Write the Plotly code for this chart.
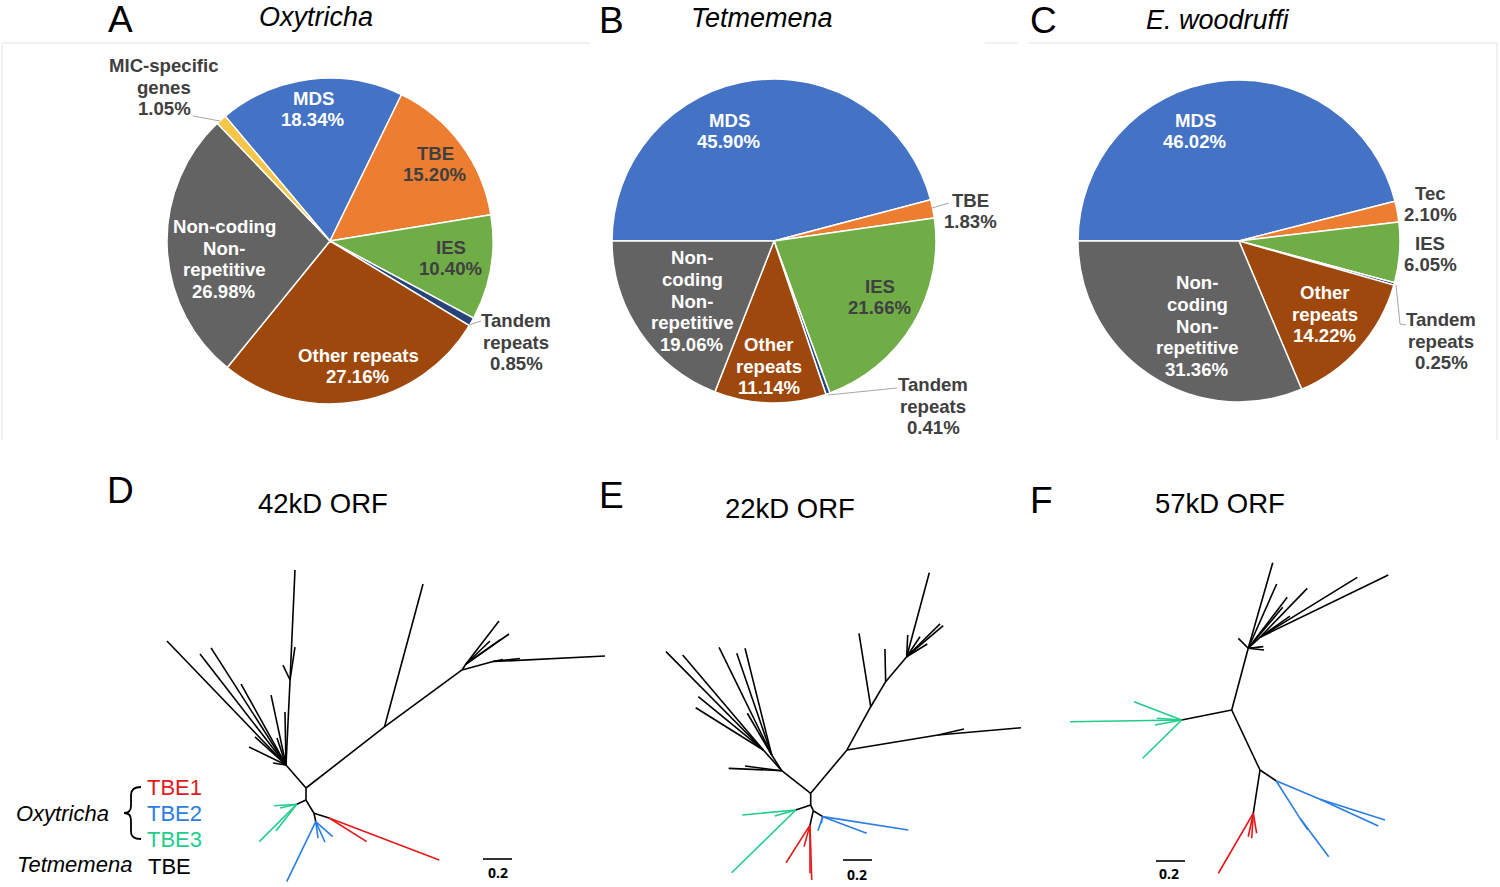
import plotly.graph_objects as go

W, H = 1500, 887          # canvas (pixels)
FONT = "Liberation Sans, Arial, sans-serif"

# ---------------- Pie data ----------------
pie_A_labels = ["MDS", "TBE", "IES", "Tandem repeats", "Other repeats",
                "Non-coding Non-repetitive", "MIC-specific genes"]
pie_A_values = [18.34, 15.20, 10.40, 0.85, 27.16, 26.98, 1.05]

pie_B_labels = ["MDS", "TBE", "IES", "Tandem repeats", "Other repeats",
                "Non-coding Non-repetitive"]
pie_B_values = [45.90, 1.83, 21.66, 0.41, 11.14, 19.06]

pie_C_labels = ["MDS", "Tec", "IES", "Tandem repeats", "Other repeats",
                "Non-coding Non-repetitive"]
pie_C_values = [46.02, 2.10, 6.05, 0.25, 14.22, 31.36]

slice_colors = {
    "MDS": "#4472C4", "TBE": "#ED7D31", "Tec": "#ED7D31", "IES": "#70AD47",
    "Tandem repeats": "#264478", "Other repeats": "#9E480E",
    "Non-coding Non-repetitive": "#636363", "MIC-specific genes": "#F6C64A",
}

# ---------------- Tree data (branch-length units, root at 0,0) ----------------
# Tree D: 42kD ORF
D_x = [0, 0, -0.138, 0.541, 0.807, 1.076, 1.290, 2.062, 1.476, 1.359,
       1.103, 1.331, 1.400, 1.269, 1.338,
       -0.959, -0.731, -0.655, -0.448, -0.352, -0.393, -0.228, -0.241, -0.145, -0.200,
       -0.110, -0.159, -0.076, -0.076,
       -0.064, -0.221, -0.179, -0.207, -0.322,
       0.055, 0.159, 0.419, 0.919,
       0.067, -0.133, 0.184, 0.131, 0.083]
D_y = [0, -0.083, 0.159, 0.421, 1.407, 0.814, 0.872, 0.910, 0.893, 0.886,
       0.855, 1.152, 1.062, 1.014, 1.021,
       1.014, 0.924, 0.966, 0.717, 0.352, 0.283, 0.172, 0.641, 0.524, 0.345,
       0.745, 0.848, 0.972, 1.503,
       -0.112, -0.122, -0.138, -0.297, -0.370,
       -0.174, -0.207, -0.370, -0.497,
       -0.232, -0.646, -0.336, -0.374, -0.345]
D_parent = [-1, 0, 0, 0, 3, 3, 5, 6, 6, 6,
            5, 10, 10, 10, 10,
            2, 2, 2, 2, 2, 2, 2, 2, 2, 2,
            2, 25, 25, 25,
            1, 29, 29, 29, 29,
            1, 34, 35, 35,
            34, 38, 38, 38, 38]
D_clade = ["k"] * 29 + ["k", "g", "g", "g", "g"] + ["k", "k", "r", "r"] + ["k", "b", "b", "b", "b"]

# Tree E: 22kD ORF
E_x = [0, 0, -0.200, 0.250, 0.878, 1.450, 1.057, 0.414, 0.333, 0.517, 0.512,
       0.662, 0.818, 0.669, 0.914, 0.892, 0.804, 0.754,
       -0.327, -0.998, -0.883, -0.775, -0.793,
       -0.269, -0.632, -0.510, -0.453, -0.437,
       -0.566, -0.453,
       -0.103, -0.472, -0.247, -0.545,
       0.018, -0.005, -0.170, 0.007, -0.005, -0.046,
       0.083, 0.673, 0.386, 0.050, 0.073]
E_y = [0, -0.081, 0.156, 0.299, 0.402, 0.452, 0.443, 0.597, 1.103, 0.770, 0.995,
       0.942, 1.521, 1.092, 1.156, 1.168, 1.030, 1.080,
       0.299, 0.977, 0.954, 0.666, 0.590,
       0.264, 1.007, 0.966, 1.000, 0.552,
       0.172, 0.188,
       -0.115, -0.150, -0.157, -0.548,
       -0.120, -0.219, -0.479, -0.598, -0.552, -0.368,
       -0.161, -0.253, -0.276, -0.258, -0.207]
E_parent = [-1, 0, 0, 0, 3, 4, 4, 3, 7, 7, 9,
            9, 11, 11, 11, 11, 11, 11,
            2, 18, 18, 18, 18,
            2, 23, 23, 23, 23,
            2, 2,
            1, 30, 30, 30,
            1, 34, 35, 35, 35, 35,
            34, 40, 40, 40, 40]
E_clade = ["k"] * 30 + ["k", "g", "g", "g"] + ["k", "k", "r", "r", "r", "r"] + ["k", "b", "b", "b", "b"]

# Tree F: 57kD ORF
F_x = [0, 0.114, 0.195, 0.283, 0.310, 0.383, 0.352, 0.046, 0.218, 0.223,
       0.521, 0.402, 0.866, 1.080,
       -0.345, -1.115, -0.674, -0.614, -0.529, -0.517,
       0.195, 0.149, -0.092, 0.172, 0.138, 0.114,
       0.306, 0.609, 1.057, 1.011, 0.471, 0.669, 0.526]
F_y = [0, 0.426, 0.501, 1.016, 0.869, 0.777, 0.708, 0.494, 0.437, 0.414,
       0.839, 0.648, 0.915, 0.931,
       -0.069, -0.081, 0.057, -0.333, -0.103, -0.057,
       -0.414, -0.712, -1.126, -0.850, -0.885, -0.874,
       -0.488, -0.616, -0.759, -0.800, -0.747, -1.012, -0.828]
F_parent = [-1, 0, 1, 1, 1, 1, 1, 1, 1, 1,
            2, 2, 2, 2,
            0, 14, 14, 14, 14, 14,
            0, 20, 21, 21, 21, 21,
            20, 26, 27, 27, 26, 30, 30]
F_clade = ["k"] * 14 + ["k", "g", "g", "g", "g", "g"] + ["k", "k", "r", "r", "r", "r"] + \
          ["k", "b", "b", "b", "b", "b", "b"]

clade_colors = {"k": "#000000", "r": "#E3191C", "b": "#2A7DE1", "g": "#22CC8A"}
scale_bar_length = 0.2

# ---------------- Figure ----------------
fig = go.Figure()

def pie_domain(cx, cy, r):
    return dict(x=[(cx - r) / W, (cx + r) / W], y=[(H - cy - r) / H, (H - cy + r) / H])

for labels, values, (cx, cy, r), rot in [
    (pie_A_labels, pie_A_values, (330, 241, 163), -40),
    (pie_B_labels, pie_B_values, (774, 241, 162), -90),
    (pie_C_labels, pie_C_values, (1239, 241, 161), -90),
]:
    fig.add_trace(go.Pie(
        labels=labels, values=values, sort=False, direction="clockwise",
        rotation=rot, textinfo="none", hoverinfo="label+value",
        marker=dict(colors=[slice_colors[l] for l in labels],
                    line=dict(color="white", width=1.5)),
        domain=pie_domain(cx, cy, r), showlegend=False,
    ))

# main pixel axes for text / leader lines
fig.add_trace(go.Scatter(x=[0, W], y=[0, H], mode="markers", marker=dict(opacity=0),
                         hoverinfo="skip", showlegend=False, xaxis="x", yaxis="y"))

tree_roots = {"D": (306.0, 788.0), "E": (810.7, 793.3), "F": (1231.7, 710.0)}
PX_PER_UNIT = 145.0
axis_ids = {"D": ("x2", "y2"), "E": ("x3", "y3"), "F": ("x4", "y4")}

trees = {"D": (D_x, D_y, D_parent, D_clade),
         "E": (E_x, E_y, E_parent, E_clade),
         "F": (F_x, F_y, F_parent, F_clade)}

for name, (xs, ys, par, cl) in trees.items():
    xa, ya = axis_ids[name]
    for c in ["k", "g", "b", "r"]:
        sx, sy = [], []
        for i, p in enumerate(par):
            if p < 0 or cl[i] != c:
                continue
            sx += [xs[p], xs[i], None]
            sy += [ys[p], ys[i], None]
        if sx:
            fig.add_trace(go.Scatter(x=sx, y=sy, mode="lines",
                                     line=dict(color=clade_colors[c], width=1.6),
                                     hoverinfo="skip", showlegend=False,
                                     xaxis=xa, yaxis=ya))

# scale bars (bar start in pixels -> tree units)
scale_bar_pos = {"D": (483, 859, 498, 872), "E": (843, 860, 857, 874), "F": (1156, 861, 1169, 873)}
annotations = []
for name, (bx, by, tx, ty) in scale_bar_pos.items():
    rx, ry = tree_roots[name]
    xa, ya = axis_ids[name]
    u0 = (bx - rx) / PX_PER_UNIT
    v0 = (ry - by) / PX_PER_UNIT
    fig.add_trace(go.Scatter(x=[u0, u0 + scale_bar_length], y=[v0, v0], mode="lines",
                             line=dict(color="black", width=1.6), hoverinfo="skip",
                             showlegend=False, xaxis=xa, yaxis=ya))
    annotations.append(dict(x=tx, y=ty, xref="x", yref="y", text="<b>0.2</b>",
                            showarrow=False,
                            font=dict(family="Open Sans, DejaVu Sans", size=14, color="black")))

layout_axes = {}
layout_axes["xaxis"] = dict(range=[0, W], visible=False, domain=[0, 1], fixedrange=True)
layout_axes["yaxis"] = dict(range=[H, 0], visible=False, domain=[0, 1], fixedrange=True)
for name, (xa, ya) in axis_ids.items():
    rx, ry = tree_roots[name]
    n = xa[1:]
    layout_axes["xaxis" + n] = dict(range=[-rx / PX_PER_UNIT, (W - rx) / PX_PER_UNIT],
                                   visible=False, domain=[0, 1], anchor=ya, fixedrange=True)
    layout_axes["yaxis" + n] = dict(range=[-(H - ry) / PX_PER_UNIT, ry / PX_PER_UNIT],
                                   visible=False, domain=[0, 1], anchor=xa, fixedrange=True)

# ---------------- Pie labels ----------------
DARK = "#404040"
pie_label_layout = [
    (pie_A_values, [
        (["MDS"], 313, 109, "white"),
        (["TBE"], 435, 164, DARK),
        (["IES"], 451, 258, DARK),
        (["Tandem", "repeats"], 516, 342, DARK),
        (["Other repeats"], 358, 366, "white"),
        (["Non-coding", "Non-", "repetitive"], 224, 259, "white"),
        (["MIC-specific", "genes"], 164, 87, DARK),
    ]),
    (pie_B_values, [
        (["MDS"], 729, 131, "white"),
        (["TBE"], 970, 211, DARK),
        (["IES"], 880, 297, DARK),
        (["Tandem", "repeats"], 933, 406, DARK),
        (["Other", "repeats"], 769, 366, "white"),
        (["Non-", "coding", "Non-", "repetitive"], 692, 301, "white"),
    ]),
    (pie_C_values, [
        (["MDS"], 1195, 131, "white"),
        (["Tec"], 1430, 204, DARK),
        (["IES"], 1430, 254, DARK),
        (["Tandem", "repeats"], 1441, 341, DARK),
        (["Other", "repeats"], 1325, 314, "white"),
        (["Non-", "coding", "Non-", "repetitive"], 1197, 326, "white"),
    ]),
]
LINE_H = 21.8
for values, specs in pie_label_layout:
    for val, (lines, cx, cy, col) in zip(values, specs):
        all_lines = lines + ["%.2f%%" % val]
        n = len(all_lines)
        for i, t in enumerate(all_lines):
            annotations.append(dict(
                x=cx, y=cy + (i - (n - 1) / 2) * LINE_H, xref="x", yref="y",
                text="<b>%s</b>" % t, showarrow=False,
                font=dict(family=FONT, size=18.6, color=col)))

# leader lines
shapes = []
leaders = [
    [(193, 116), (220, 121)],
    [(469, 325), (481, 321)],
    [(932, 208), (949, 203)],
    [(828, 395), (897, 388)],
    [(1396, 285), (1400, 324), (1406, 325)],
]
for pts in leaders:
    path = "M " + " L ".join("%g,%g" % p for p in pts)
    shapes.append(dict(type="path", path=path, xref="x", yref="y",
                       line=dict(color="#A6A6A6", width=1)))

# faint chart frames
for (x0, y0, x1, y1) in [(2, 43, 2, 440), (2, 43, 590, 43), (1028, 43, 1497, 43),
                         (1497, 43, 1497, 440), (985, 43, 1018, 43)]:
    shapes.append(dict(type="line", x0=x0, y0=y0, x1=x1, y1=y1, xref="x", yref="y",
                       line=dict(color="#E4E4E4", width=1)))

# Oxytricha brace
shapes.append(dict(type="path", path="M 141,787 Q 131,787 131,795 L 131,806 Q 131,813 124,813 "
                                      "Q 131,813 131,820 L 131,832 Q 131,839 141,839",
                   xref="x", yref="y", line=dict(color="black", width=1.8)))

# titles
for txt, x, y, size in [
    ("A", 120, 19, 37), ("<i>Oxytricha</i>", 316, 17, 27),
    ("B", 611, 20, 37), ("<i>Tetmemena</i>", 762, 18, 27),
    ("C", 1043, 20, 37), ("<i>E. woodruffi</i>", 1218, 20, 27),
    ("D", 120, 490, 37), ("42kD ORF", 323, 503, 27.5),
    ("E", 611, 495, 37), ("22kD ORF", 790, 508, 27.5),
    ("F", 1041, 500, 37), ("57kD ORF", 1220, 503, 27.5),
]:
    annotations.append(dict(x=x, y=y, xref="x", yref="y", text=txt, showarrow=False,
                            font=dict(family=FONT, size=size, color="black")))

# legend
for txt, x, y, col, anchor in [
    ("<i>Oxytricha</i>", 62, 813, "black", "center"),
    ("TBE1", 145, 787, clade_colors["r"], "left"),
    ("TBE2", 145, 813, clade_colors["b"], "left"),
    ("TBE3", 145, 839, clade_colors["g"], "left"),
    ("<i>Tetmemena</i>", 74, 864, "black", "center"),
    ("TBE", 146, 866, "black", "left"),
]:
    annotations.append(dict(x=x, y=y, xref="x", yref="y", text=txt, showarrow=False,
                            xanchor=anchor, font=dict(family=FONT, size=22, color=col)))

fig.update_layout(
    width=W, height=H, margin=dict(l=0, r=0, t=0, b=0),
    paper_bgcolor="white", plot_bgcolor="rgba(0,0,0,0)",
    annotations=annotations, shapes=shapes, showlegend=False,
    **layout_axes,
)

# remove the default 8px page margin so the figure sits at the window's top-left corner
fig.write_html("out.html", config={"displayModeBar": False},
               post_script="document.body.style.margin='0';document.body.style.overflow='hidden';")
